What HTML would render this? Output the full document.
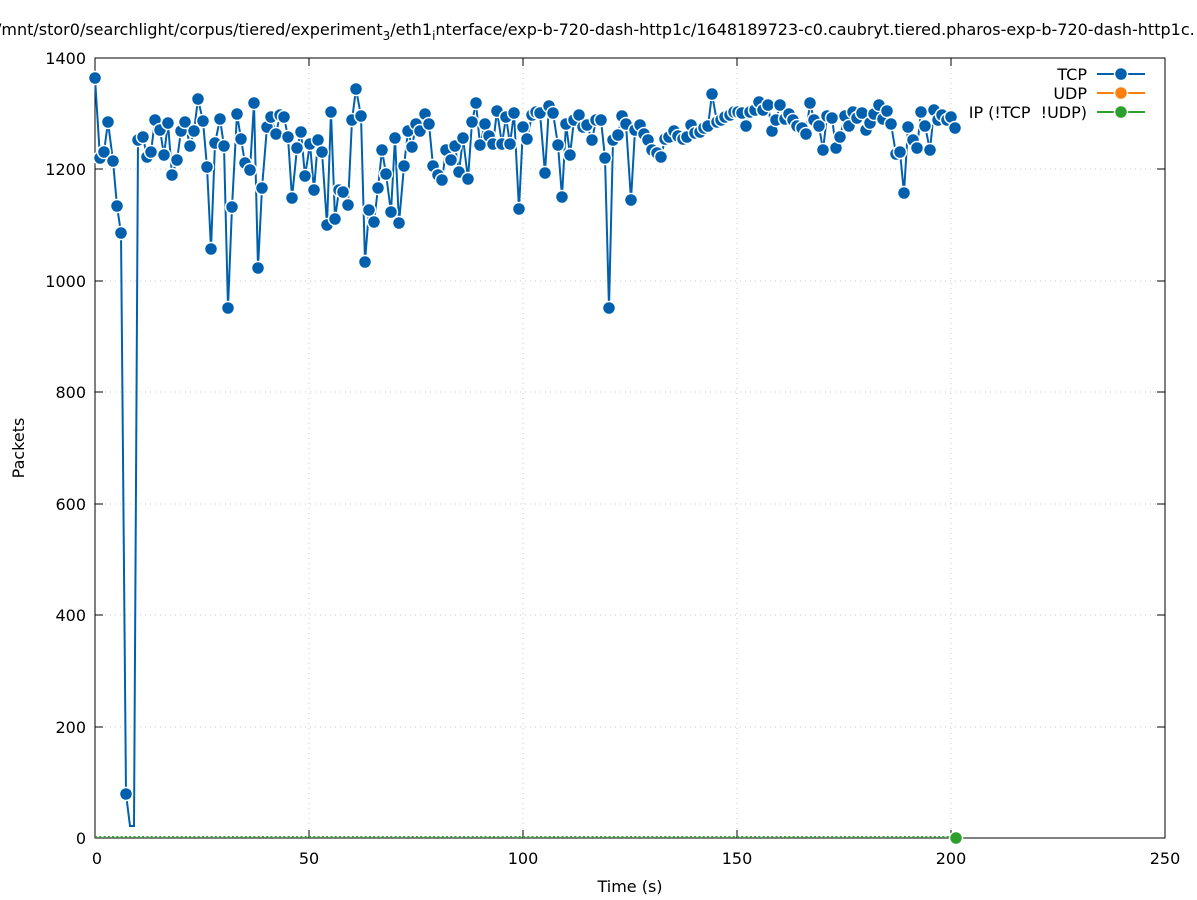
<!DOCTYPE html>
<html><head><meta charset="utf-8"><style>
html,body{margin:0;padding:0;background:#fff}
svg{display:block;font-family:"DejaVu Sans","Liberation Sans",sans-serif}
</style></head><body>
<svg id="s" width="1197" height="900" viewBox="0 0 1197 900" xmlns="http://www.w3.org/2000/svg">
<rect width="1197" height="900" fill="#fff"/>
<g stroke="#c8c8c8" stroke-dasharray="1,4" stroke-width="1">
<line x1="309" y1="58" x2="309" y2="838"/><line x1="523" y1="58" x2="523" y2="838"/>
<line x1="737" y1="58" x2="737" y2="838"/><line x1="951" y1="58" x2="951" y2="838"/>
<line x1="95" y1="727" x2="1165" y2="727"/><line x1="95" y1="615" x2="1165" y2="615"/>
<line x1="95" y1="504" x2="1165" y2="504"/><line x1="95" y1="392" x2="1165" y2="392"/>
<line x1="95" y1="281" x2="1165" y2="281"/><line x1="95" y1="169" x2="1165" y2="169"/>
</g>
<rect x="95" y="58" width="1070" height="780" fill="none" stroke="#000" stroke-width="1"/>
<g stroke="#000" stroke-width="1">
<line x1="95" y1="727" x2="103" y2="727"/><line x1="1165" y1="727" x2="1157" y2="727"/>
<line x1="95" y1="615" x2="103" y2="615"/><line x1="1165" y1="615" x2="1157" y2="615"/>
<line x1="95" y1="504" x2="103" y2="504"/><line x1="1165" y1="504" x2="1157" y2="504"/>
<line x1="95" y1="392" x2="103" y2="392"/><line x1="1165" y1="392" x2="1157" y2="392"/>
<line x1="95" y1="281" x2="103" y2="281"/><line x1="1165" y1="281" x2="1157" y2="281"/>
<line x1="95" y1="169" x2="103" y2="169"/><line x1="1165" y1="169" x2="1157" y2="169"/>
<line x1="309" y1="838" x2="309" y2="830"/><line x1="309" y1="58" x2="309" y2="66"/>
<line x1="523" y1="838" x2="523" y2="830"/><line x1="523" y1="58" x2="523" y2="66"/>
<line x1="737" y1="838" x2="737" y2="830"/><line x1="737" y1="58" x2="737" y2="66"/>
<line x1="951" y1="838" x2="951" y2="830"/><line x1="951" y1="58" x2="951" y2="66"/>
</g>
<g font-size="16" fill="#000" text-anchor="end">
<text x="86" y="844">0</text><text x="86" y="733">200</text><text x="86" y="621">400</text>
<text x="86" y="510">600</text><text x="86" y="398">800</text><text x="86" y="287">1000</text>
<text x="86" y="175">1200</text><text x="86" y="64">1400</text>
</g>
<g font-size="16" fill="#000" text-anchor="middle">
<text x="97" y="864">0</text><text x="309" y="864">50</text><text x="523" y="864">100</text>
<text x="737" y="864">150</text><text x="951" y="864">200</text><text x="1165" y="864">250</text>
<text x="630" y="892">Time (s)</text>
<text transform="translate(24,448) rotate(-90)">Packets</text>
</g>
<text x="-4" y="35" font-size="16" fill="#000">/mnt/stor0/searchlight/corpus/tiered/experiment<tspan dy="5" font-size="12">3</tspan><tspan dy="-5">/eth1</tspan><tspan dy="5" font-size="12">i</tspan><tspan dy="-5">nterface/exp-b-720-dash-http1c/1648189723-c0.caubryt.tiered.pharos-exp-b-720-dash-http1c.</tspan></text>
<g font-size="16" fill="#000" text-anchor="end">
<text x="1087" y="80">TCP</text><text x="1087" y="99">UDP</text><text x="1087" y="118" xml:space="preserve">IP (!TCP  !UDP)</text>
</g>
<g stroke-width="2">
<line x1="1097" y1="74" x2="1145" y2="74" stroke="#0060ad"/>
<line x1="1097" y1="93" x2="1145" y2="93" stroke="#ff7f0e"/>
<line x1="1097" y1="112" x2="1145" y2="112" stroke="#2ca02c"/>
</g>
<circle cx="1121" cy="74" r="6.5" fill="#0060ad" stroke="#fff" stroke-width="1.5"/>
<circle cx="1121" cy="93" r="6.5" fill="#ff7f0e" stroke="#fff" stroke-width="1.5"/>
<circle cx="1121" cy="112" r="6.5" fill="#2ca02c" stroke="#fff" stroke-width="1.5"/>
<line x1="95" y1="837" x2="956" y2="837" stroke="#2ca02c" stroke-width="2" stroke-dasharray="2,2.28"/>
<g id="tcp"></g>
<circle cx="956" cy="838" r="6.5" fill="#2ca02c" stroke="#fff" stroke-width="1.5"/>
</svg>
<script>
var p=[[95,78],[100,158],[104,152],[108,122],[113,161],[117,206],[121,233],[126,794],[130,826],[134,826],[138,140],[143,137],[147,157],[151,152],[155,120],[160,130],[164,155],[168,123],[172,175],[177,160],[181,131],[185,122],[190,146],[194,131],[198,99],[203,121],[207,167],[211,249],[215,143],[220,119],[224,146],[228,308],[232,207],[237,114],[241,139],[245,163],[250,170],[254,103],[258,268],[262,188],[267,127],[271,117],[276,134],[280,115],[284,117],[288,137],[292,198],[297,148],[301,132],[305,176],[310,144],[314,190],[318,140],[322,152],[327,225],[331,112],[335,219],[339,190],[343,192],[348,205],[352,120],[356,89],[361,116],[365,262],[369,210],[374,222],[378,188],[382,150],[386,174],[391,212],[395,138],[399,223],[404,166],[408,131],[412,147],[416,124],[420,131],[425,114],[429,124],[433,166],[438,175],[442,180],[446,150],[451,160],[455,146],[459,172],[463,138],[468,179],[472,122],[476,103],[480,145],[485,124],[489,136],[493,144],[497,111],[502,144],[506,117],[510,144],[514,113],[519,209],[523,127],[527,139],[532,115],[536,112],[540,113],[545,173],[549,106],[553,113],[558,145],[562,197],[566,124],[570,155],[574,120],[579,115],[583,127],[587,125],[592,140],[596,120],[601,120],[605,158],[609,308],[613,140],[618,135],[622,116],[626,124],[631,200],[635,130],[640,125],[644,134],[648,140],[652,150],[657,153],[661,157],[665,139],[669,137],[674,131],[678,136],[683,139],[687,137],[691,125],[695,133],[700,132],[704,128],[708,126],[712,94],[717,122],[721,120],[725,117],[730,115],[734,112],[738,112],[742,113],[746,126],[750,112],[755,110],[759,102],[763,110],[768,105],[772,131],[776,120],[780,105],[785,119],[789,114],[793,120],[797,126],[802,128],[806,134],[810,103],[814,120],[819,126],[823,150],[827,116],[832,118],[836,148],[840,137],[845,116],[849,126],[853,112],[857,118],[862,113],[866,130],[870,123],[874,114],[879,105],[883,119],[887,111],[891,124],[896,154],[900,152],[904,193],[908,127],[913,140],[917,148],[921,112],[925,126],[930,150],[934,110],[938,120],[942,115],[947,120],[951,117],[955,128]];
var g=document.getElementById('tcp'),h='';
h+='<polyline fill="none" stroke="#0060ad" stroke-width="2" points="'+p.map(function(a){return a.join(',')}).join(' ')+'"/>';
p.forEach(function(a){if(a[1]>820)return;h+='<circle cx="'+a[0]+'" cy="'+a[1]+'" r="6.5" fill="#0060ad" stroke="#fff" stroke-width="1.5"/>';});
g.innerHTML=h;
</script>
</body></html>
